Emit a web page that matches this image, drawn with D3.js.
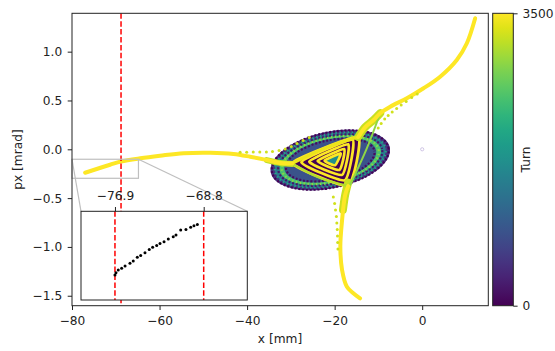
<!DOCTYPE html>
<html>
<head>
<meta charset="utf-8">
<script src="https://cdn.jsdelivr.net/npm/d3@7"></script>
<style>
  body { margin: 0; background: #fff; }
  text { font-family: "DejaVu Sans", sans-serif; font-size: 12.2px; fill: #222; }
</style>
</head>
<body>
<svg id="chart" width="555" height="351"></svg>
<script>
// values: x in mm, px in mrad, colour = turn
const xTicks = [-80, -60, -40, -20, 0];
const yTicks = [-1.5, -1.0, -0.5, 0.0, 0.5, 1.0];
const turnTicks = [0, 3500];
const cutLines = [-76.9, -68.8];
const mainCut = -68.8;

// separatrix arms (yellow, late turns)
const leftArm = [[-77.0, -0.240], [-71.3, -0.158], [-68.8, -0.125], [-64.4, -0.092], [-59.9, -0.066],
  [-54.5, -0.040], [-48.4, -0.035], [-43.1, -0.048], [-39.3, -0.076], [-35.5, -0.110], [-32.4, -0.140], [-29.7, -0.145]];
const topEdge = [[-29.7, -0.145], [-22.2, 0.013], [-14.6, 0.126]];
const upperArm = [[-14.6, 0.126], [-13.0, 0.228], [-11.1, 0.300], [-9.6, 0.369], [-7.3, 0.436], [-3.5, 0.523],
  [0.3, 0.625], [4.1, 0.744], [7.9, 0.915], [10.2, 1.086], [12.1, 1.342]];
const rightEdge = [[-9.6, 0.369], [-12.8, -0.007], [-16.5, -0.366]];
const bottomEdge = [[-29.7, -0.145], [-23.3, -0.294], [-16.9, -0.376]];
const lowerArm = [[-16.9, -0.376], [-17.6, -0.468], [-18.3, -0.724], [-18.7, -0.998], [-18.3, -1.237],
  [-17.2, -1.408], [-15.8, -1.472], [-14.2, -1.527]];

// wider bands where the arms meet the core
const junctions = [
  { turn: 3150, pts: [[-35.5, -0.110], [-32.4, -0.140], [-29.7, -0.150]] },
  { turn: 3200, pts: [[-14.6, 0.126], [-13.0, 0.228], [-11.1, 0.300], [-9.6, 0.369]] },
  { turn: 3200, pts: [[-16.9, -0.340], [-17.6, -0.468], [-18.1, -0.620]] }
];

// loose particles running beside the arms
const dotsLeft = [[-41.6, -0.031], [-40.1, -0.030], [-38.6, -0.028], [-37.1, -0.028], [-35.6, -0.028], [-34.2, -0.023],
  [-32.7, -0.012], [-31.3, 0.003], [-29.9, 0.029], [-28.6, 0.059], [-27.2, 0.090], [-25.8, 0.121]];
const dotsUpper = [[-10.05, 0.218], [-9.37, 0.264], [-8.57, 0.310], [-7.77, 0.346], [-6.85, 0.382], [-5.83, 0.418],
  [-4.80, 0.454], [-3.66, 0.490], [-2.40, 0.531], [-1.14, 0.566]];
const dotsLower = [[-20.3, -0.489], [-20.0, -0.555], [-19.8, -0.622], [-19.6, -0.689], [-19.5, -0.755],
  [-19.4, -0.822], [-19.35, -0.888], [-19.3, -0.955], [-19.25, -1.021]];

// stable core: nested layers (half axes in mm / mrad) and turn
const blobCenter = [-21.0, -0.11];
const blobLayers = [
  { a: 13.9, b: 0.290, turn: 500 },
  { a: 12.9, b: 0.262, turn: 1400 },
  { a: 11.8, b: 0.236, turn: 2500 },
  { a: 10.7, b: 0.212, turn: 900 }
];
const blobSpeckle = [
  { a: 13.6, b: 0.282, turn: 0 },
  { a: 12.9, b: 0.262, turn: 2100 },
  { a: 12.1, b: 0.244, turn: 200 },
  { a: 11.3, b: 0.228, turn: 2900 },
  { a: 10.3, b: 0.202, turn: 100 }
];
const loops = [
  [[-29.7, -0.140], [-14.6, 0.126], [-16.9, -0.376]],
  [[-27.6, -0.133], [-15.9, 0.098], [-17.7, -0.318]],
  [[-25.8, -0.127], [-16.9, 0.051], [-18.3, -0.262]],
  [[-23.9, -0.121], [-17.8, 0.002], [-18.9, -0.211]],
  [[-22.3, -0.116], [-18.6, -0.042], [-19.9, -0.163]]
];
const strayPoint = [[0.0, 0.0]];

// particles between the two cuts (inset, black)
const insetPts = [[-76.90, -0.242], [-76.81, -0.237], [-76.60, -0.231], [-76.29, -0.227], [-75.98, -0.222],
  [-75.53, -0.216], [-75.23, -0.211], [-74.86, -0.203], [-74.55, -0.199], [-74.16, -0.193], [-73.77, -0.186],
  [-73.46, -0.181], [-73.09, -0.177], [-72.79, -0.173], [-72.42, -0.169], [-72.03, -0.163], [-71.58, -0.158],
  [-71.33, -0.154], [-70.90, -0.143], [-70.42, -0.142], [-69.99, -0.137], [-69.69, -0.134], [-69.38, -0.131]];
const insetX = [-80, -64.82];
const insetY = [-0.297, -0.102];

const svg = d3.select('#chart');
const x = d3.scaleLinear().domain([-80, 15.1]).range([72, 488.3]);
const y = d3.scaleLinear().domain([-1.602, 1.393]).range([305.7, 13.3]);
const color = d3.scaleSequential(d3.interpolateViridis).domain([0, 3500]);
const kx = x(1) - x(0), ky = y(0) - y(1);

svg.append('clipPath').attr('id', 'plotClip').append('rect')
  .attr('x', 72).attr('y', 13.3).attr('width', 416.3).attr('height', 292.4);
const plot = svg.append('g').attr('clip-path', 'url(#plotClip)');

const curve = d3.line().x(d => x(d[0])).y(d => y(d[1])).curve(d3.curveCatmullRom);

// core
const blob = plot.append('g')
  .attr('transform', `translate(${x(blobCenter[0])},${y(blobCenter[1])}) rotate(-12)`);
blobLayers.forEach(l => {
  blob.append('ellipse').attr('rx', l.a * kx).attr('ry', l.b * ky).attr('fill', color(l.turn));
});
blobSpeckle.forEach((l, i) => {
  blob.append('ellipse').attr('rx', l.a * kx).attr('ry', l.b * ky).attr('fill', 'none')
    .attr('stroke', color(l.turn)).attr('stroke-width', 2.2)
    .attr('stroke-dasharray', i % 2 ? '1.4 2.6' : '2 1.8').attr('stroke-dashoffset', i * 1.3);
});

const loopLine = d3.line().x(d => x(d[0])).y(d => y(d[1])).curve(d3.curveCardinalClosed.tension(0.55));
plot.append('path').attr('d', loopLine(loops[0])).attr('fill', color(0));
loops.forEach((lp, i) => {
  plot.append('path').attr('d', loopLine(lp))
    .attr('fill', i === loops.length - 1 ? color(1700) : 'none')
    .attr('stroke', color(3500)).attr('stroke-width', 2.7);
});

// arms
junctions.forEach((j, i) => {
  plot.append('path').attr('d', curve(j.pts)).attr('fill', 'none')
    .attr('stroke', color(j.turn)).attr('stroke-width', i === 0 ? 6 : 8).attr('stroke-linecap', 'round');
});
[[bottomEdge, 3100, 2.4], [rightEdge, 2900, 2], [topEdge, 3400, 3]].forEach(([pts, t, w]) => {
  plot.append('path').attr('d', curve(pts)).attr('fill', 'none')
    .attr('stroke', color(t)).attr('stroke-width', w).attr('stroke-linecap', 'round');
});
[leftArm, upperArm, lowerArm].forEach(pts => {
  plot.append('path').attr('d', curve(pts)).attr('fill', 'none')
    .attr('stroke', color(3500)).attr('stroke-width', 4).attr('stroke-linecap', 'round');
});

plot.selectAll('circle.loose').data(dotsLeft.concat(dotsUpper, dotsLower)).join('circle')
  .attr('class', 'loose').attr('cx', d => x(d[0])).attr('cy', d => y(d[1])).attr('r', 1.5)
  .attr('fill', color(3250));

plot.selectAll('circle.stray').data(strayPoint).join('circle')
  .attr('class', 'stray').attr('cx', d => x(d[0])).attr('cy', d => y(d[1])).attr('r', 1.6)
  .attr('fill', 'none').attr('stroke', '#c4b8de').attr('stroke-width', 0.8);

// cut line
plot.append('line').attr('x1', x(mainCut)).attr('x2', x(mainCut)).attr('y1', 13.3).attr('y2', 305.7)
  .attr('stroke', '#ff0000').attr('stroke-width', 1.5).attr('stroke-dasharray', '5.5 2.4');

// zoom rectangle and connectors
const zr = { x0: x(insetX[0]), x1: x(insetX[1]), y0: y(insetY[1]), y1: y(insetY[0]) };
const ib = { x0: 81, x1: 247.3, y0: 211.3, y1: 300 };
svg.append('rect').attr('x', zr.x0).attr('y', zr.y0).attr('width', zr.x1 - zr.x0).attr('height', zr.y1 - zr.y0)
  .attr('fill', 'none').attr('stroke', '#bfbfbf').attr('stroke-width', 1.2);
svg.append('line').attr('x1', zr.x0).attr('y1', zr.y0).attr('x2', ib.x0).attr('y2', ib.y0)
  .attr('stroke', '#bfbfbf').attr('stroke-width', 1.2);
svg.append('line').attr('x1', zr.x1).attr('y1', zr.y0).attr('x2', ib.x1).attr('y2', ib.y0)
  .attr('stroke', '#bfbfbf').attr('stroke-width', 1.2);

// main axes
svg.append('rect').attr('x', 72).attr('y', 13.3).attr('width', 416.3).attr('height', 292.4)
  .attr('fill', 'none').attr('stroke', '#222').attr('stroke-width', 1);
const gx = svg.append('g').attr('transform', 'translate(0,305.7)')
  .call(d3.axisBottom(x).tickValues(xTicks).tickFormat(d3.format('d')).tickSize(4.3).tickPadding(6));
const gy = svg.append('g').attr('transform', 'translate(72,0)')
  .call(d3.axisLeft(y).tickValues(yTicks).tickFormat(d3.format('.1f')).tickSize(4.3).tickPadding(5.5));
[gx, gy].forEach(g => {
  g.select('.domain').remove();
  g.selectAll('line').attr('stroke', '#222');
  g.selectAll('text').attr('font-family', null).attr('font-size', null);
});
svg.append('text').attr('x', 280).attr('y', 343).attr('text-anchor', 'middle').text('x [mm]');
svg.append('text').attr('transform', 'translate(22,159.5) rotate(-90)').attr('text-anchor', 'middle').text('px [mrad]');

// inset
const ix = d3.scaleLinear().domain(insetX).range([ib.x0, ib.x1]);
const iy = d3.scaleLinear().domain(insetY).range([ib.y1, ib.y0]);
const inset = svg.append('g');
inset.append('rect').attr('x', ib.x0).attr('y', ib.y0).attr('width', ib.x1 - ib.x0).attr('height', ib.y1 - ib.y0)
  .attr('fill', '#fff');
inset.selectAll('line.cut').data(cutLines).join('line').attr('class', 'cut')
  .attr('x1', d => ix(d)).attr('x2', d => ix(d)).attr('y1', ib.y0).attr('y2', ib.y1)
  .attr('stroke', '#ff0000').attr('stroke-width', 1.5).attr('stroke-dasharray', '5.5 2.4');
inset.selectAll('circle').data(insetPts).join('circle')
  .attr('cx', d => ix(d[0])).attr('cy', d => iy(d[1])).attr('r', 1.5).attr('fill', '#000');
inset.append('rect').attr('x', ib.x0).attr('y', ib.y0).attr('width', ib.x1 - ib.x0).attr('height', ib.y1 - ib.y0)
  .attr('fill', 'none').attr('stroke', '#222').attr('stroke-width', 1);
const gi = inset.append('g').attr('transform', `translate(0,${ib.y0})`)
  .call(d3.axisTop(ix).tickValues(cutLines).tickFormat(d3.format('.1f')).tickSize(4.3).tickPadding(7));
gi.select('.domain').remove();
gi.selectAll('line').attr('stroke', '#222');
gi.selectAll('text').attr('font-family', null).attr('font-size', null);

// colour bar
const cb = { x0: 492.7, x1: 513.3 };
const cy = d3.scaleLinear().domain([0, 3500]).range([305.7, 13.3]);
const grad = svg.append('defs').append('linearGradient').attr('id', 'viridis')
  .attr('x1', 0).attr('y1', 1).attr('x2', 0).attr('y2', 0);
d3.range(0, 1.0001, 0.05).forEach(t => {
  grad.append('stop').attr('offset', t).attr('stop-color', d3.interpolateViridis(t));
});
svg.append('rect').attr('x', cb.x0).attr('y', cy(3500)).attr('width', cb.x1 - cb.x0).attr('height', cy(0) - cy(3500))
  .attr('fill', 'url(#viridis)').attr('stroke', '#222').attr('stroke-width', 1);
const gc = svg.append('g').attr('transform', `translate(${cb.x1},0)`)
  .call(d3.axisRight(cy).tickValues(turnTicks).tickFormat(d3.format('d')).tickSize(4.3).tickPadding(5));
gc.select('.domain').remove();
gc.selectAll('line').attr('stroke', '#222');
gc.selectAll('text').attr('font-family', null).attr('font-size', null);
svg.append('text').attr('transform', 'translate(529.5,159.5) rotate(-90)').attr('text-anchor', 'middle').text('Turn');
</script>
</body>
</html>
